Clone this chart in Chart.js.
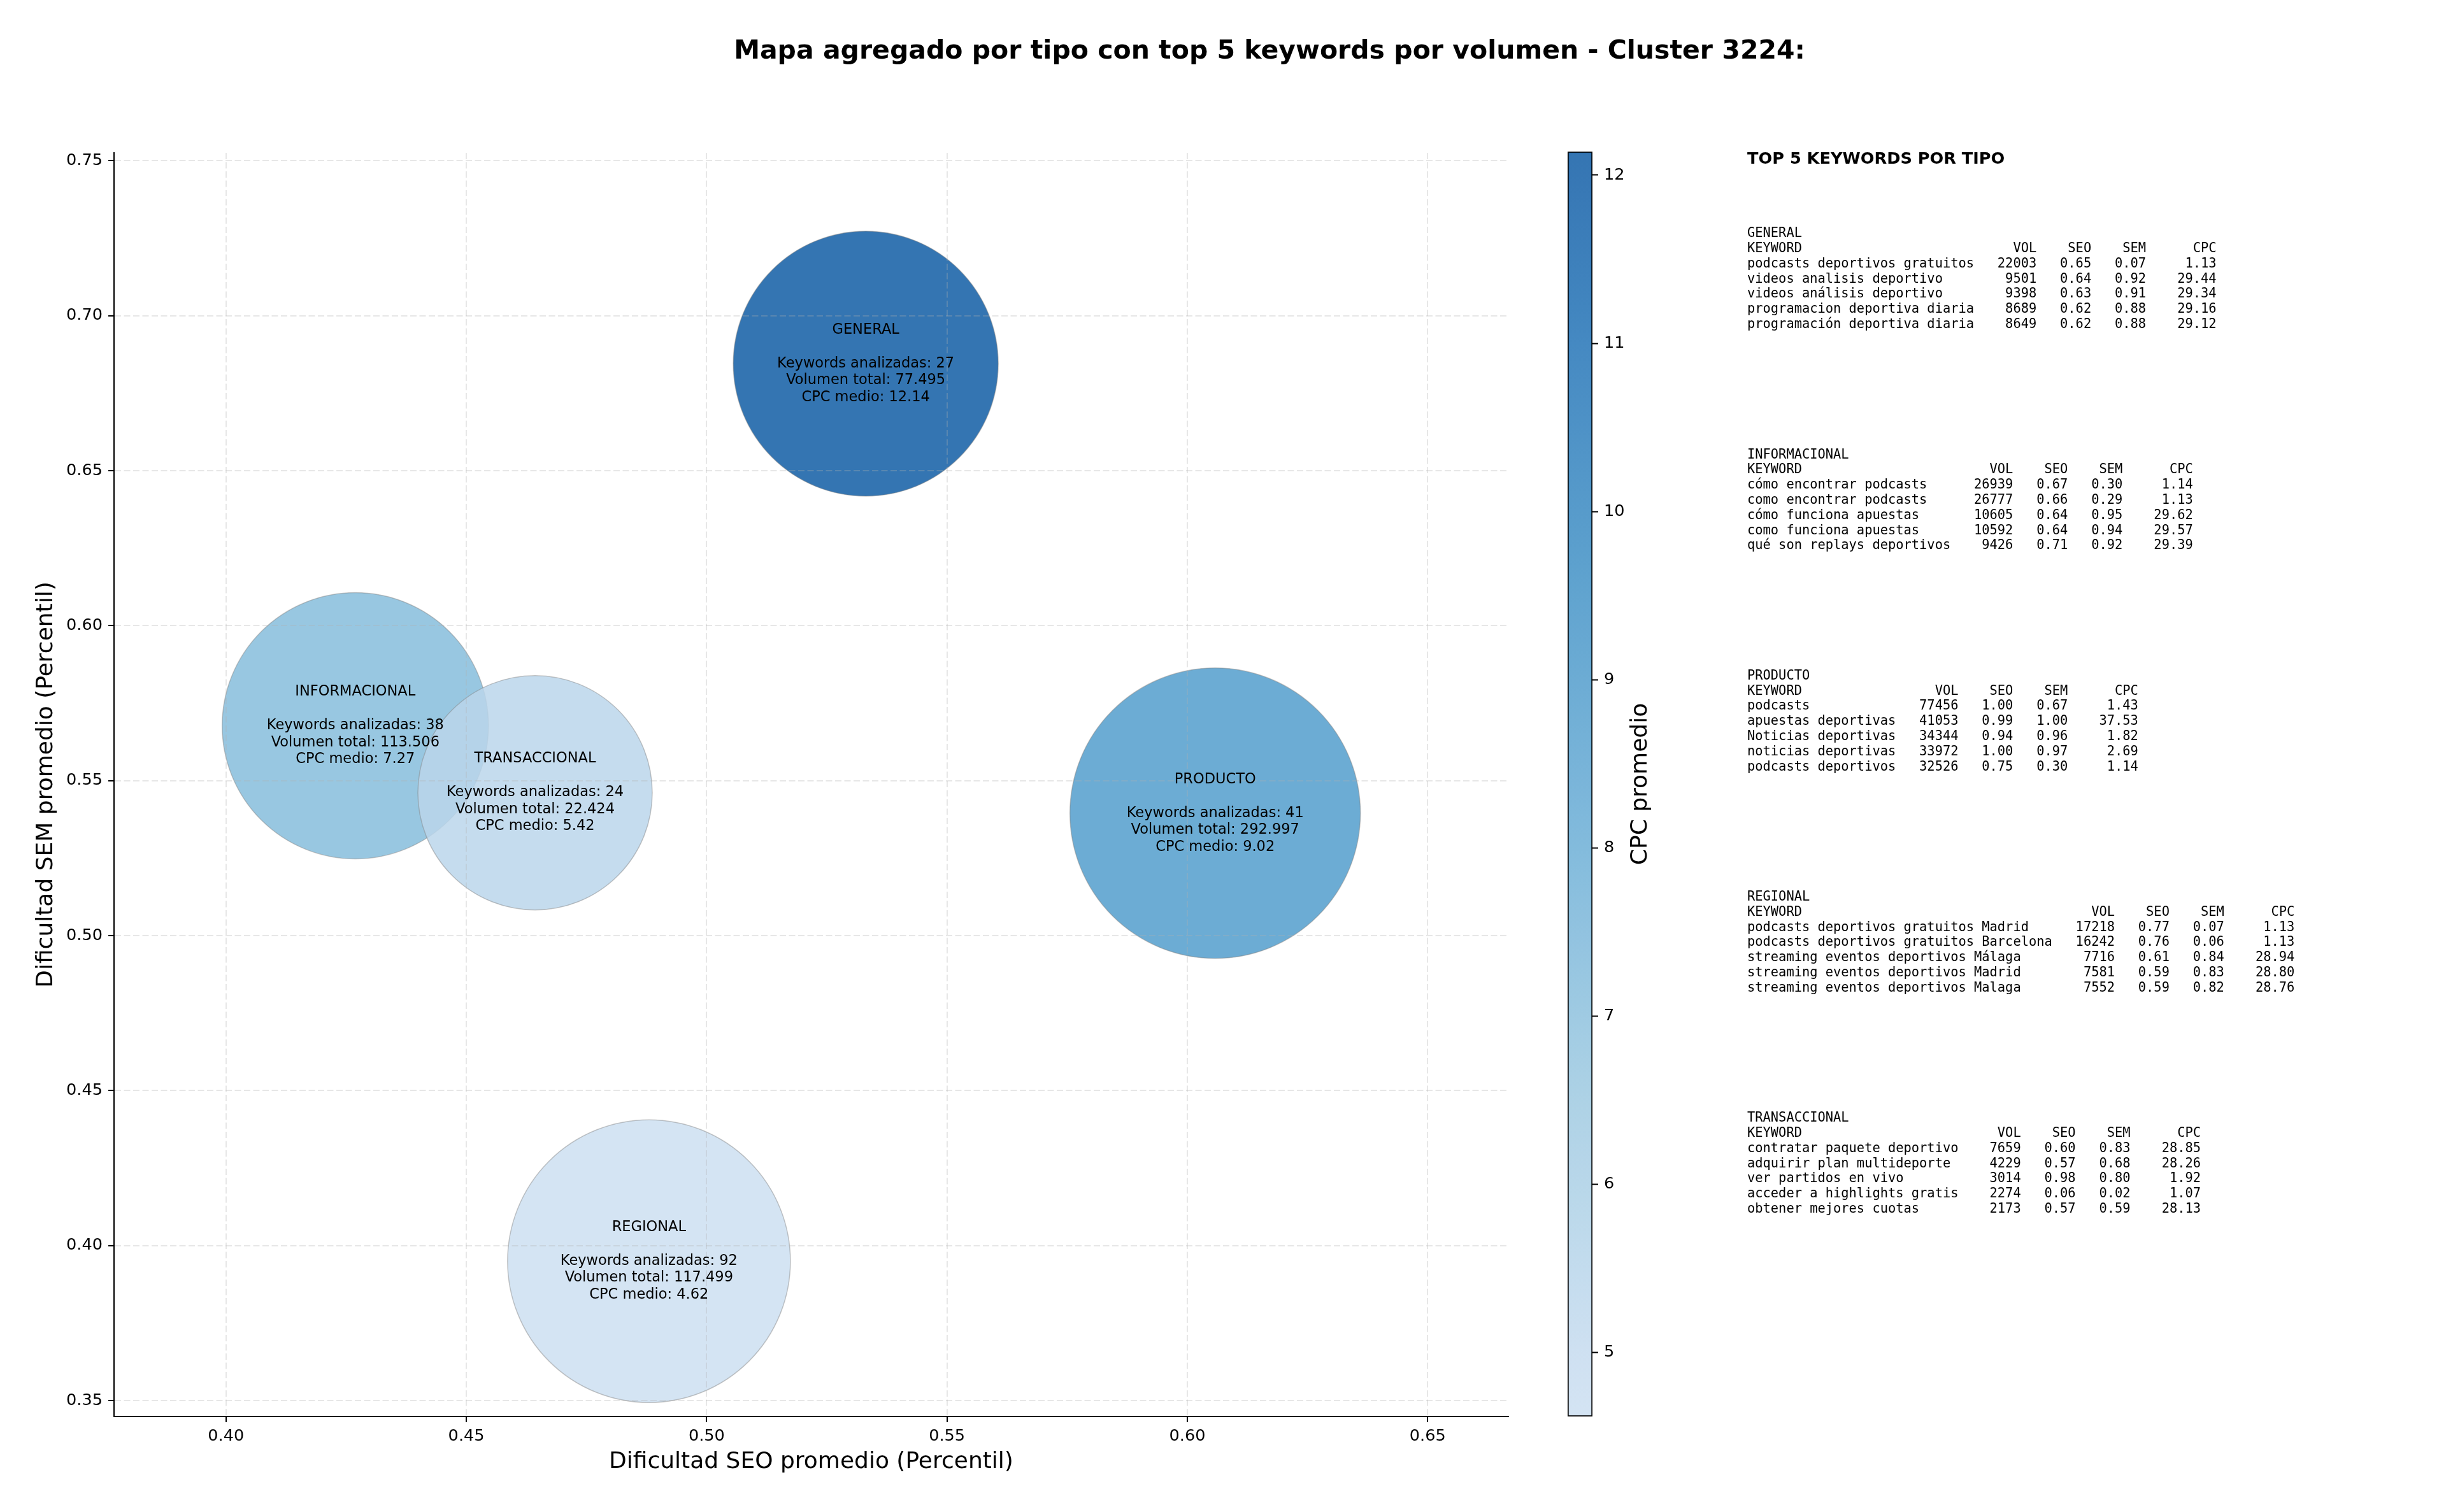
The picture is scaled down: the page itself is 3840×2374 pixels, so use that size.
<!DOCTYPE html>
<html>
<head>
<meta charset="utf-8">
<script src="https://cdn.jsdelivr.net/npm/chart.js@4.4.1/dist/chart.umd.min.js"></script>
<style>
  body { margin: 0; background: #fff; }
  #wrap { position: relative; width: 3840px; height: 2374px; }
  #mapa { position: absolute; left: 0; top: 0; }
  #barra { position: absolute; left: 2441px; top: 0; }
</style>
</head>
<body>
<div id="wrap">
  <canvas id="mapa" width="3840" height="2374"></canvas>
  <canvas id="barra" width="300" height="2374"></canvas>
</div>
<script>
// Aggregated values per keyword type
var tipos = ['GENERAL', 'INFORMACIONAL', 'PRODUCTO', 'REGIONAL', 'TRANSACCIONAL'];
var seoMedio = [0.5331, 0.4269, 0.6058, 0.4880, 0.4643];
var semMedio = [0.6845, 0.5677, 0.5395, 0.3950, 0.5461];
var keywordsAnalizadas = [27, 38, 41, 92, 24];
var volumenTotal = [77495, 113506, 292997, 117499, 22424];
var cpcMedio = [12.14, 7.27, 9.02, 4.62, 5.42];
var bubbleRadius = [208, 209, 228, 222, 184];

var xTicks = [0.40, 0.45, 0.50, 0.55, 0.60, 0.65];
var yTicks = [0.35, 0.40, 0.45, 0.50, 0.55, 0.60, 0.65, 0.70, 0.75];
var cbTicks = [5, 6, 7, 8, 9, 10, 11, 12];

// Top 5 keywords per type: keyword, VOL, SEO, SEM, CPC
var topGeneral = [
    ['podcasts deportivos gratuitos', 22003, 0.65, 0.07, 1.13],
    ['videos analisis deportivo', 9501, 0.64, 0.92, 29.44],
    ['videos análisis deportivo', 9398, 0.63, 0.91, 29.34],
    ['programacion deportiva diaria', 8689, 0.62, 0.88, 29.16],
    ['programación deportiva diaria', 8649, 0.62, 0.88, 29.12]
];
var topInformacional = [
    ['cómo encontrar podcasts', 26939, 0.67, 0.30, 1.14],
    ['como encontrar podcasts', 26777, 0.66, 0.29, 1.13],
    ['cómo funciona apuestas', 10605, 0.64, 0.95, 29.62],
    ['como funciona apuestas', 10592, 0.64, 0.94, 29.57],
    ['qué son replays deportivos', 9426, 0.71, 0.92, 29.39]
];
var topProducto = [
    ['podcasts', 77456, 1.00, 0.67, 1.43],
    ['apuestas deportivas', 41053, 0.99, 1.00, 37.53],
    ['Noticias deportivas', 34344, 0.94, 0.96, 1.82],
    ['noticias deportivas', 33972, 1.00, 0.97, 2.69],
    ['podcasts deportivos', 32526, 0.75, 0.30, 1.14]
];
var topRegional = [
    ['podcasts deportivos gratuitos Madrid', 17218, 0.77, 0.07, 1.13],
    ['podcasts deportivos gratuitos Barcelona', 16242, 0.76, 0.06, 1.13],
    ['streaming eventos deportivos Málaga', 7716, 0.61, 0.84, 28.94],
    ['streaming eventos deportivos Madrid', 7581, 0.59, 0.83, 28.80],
    ['streaming eventos deportivos Malaga', 7552, 0.59, 0.82, 28.76]
];
var topTransaccional = [
    ['contratar paquete deportivo', 7659, 0.60, 0.83, 28.85],
    ['adquirir plan multideporte', 4229, 0.57, 0.68, 28.26],
    ['ver partidos en vivo', 3014, 0.98, 0.80, 1.92],
    ['acceder a highlights gratis', 2274, 0.06, 0.02, 1.07],
    ['obtener mejores cuotas', 2173, 0.57, 0.59, 28.13]
];
var secciones = [topGeneral, topInformacional, topProducto, topRegional, topTransaccional];

var cpcMin = Math.min(...cpcMedio);
var cpcMax = Math.max(...cpcMedio);

// matplotlib "Blues" anchor colors
var bluesStops = [
    [0, [247, 251, 255]], [0.125, [222, 235, 247]], [0.25, [198, 219, 239]],
    [0.375, [158, 202, 225]], [0.5, [107, 174, 214]], [0.625, [66, 146, 198]],
    [0.75, [33, 113, 181]], [0.875, [8, 81, 156]], [1, [8, 48, 107]]
];

function blues(t) {
    for (var i = 1; i < bluesStops.length; i++) {
        if (t <= bluesStops[i][0]) {
            var a = bluesStops[i - 1], b = bluesStops[i];
            var f = (t - a[0]) / (b[0] - a[0]);
            return a[1].map((v, k) => Math.round(v + (b[1][k] - v) * f));
        }
    }
    return bluesStops[bluesStops.length - 1][1];
}

/**
 * Color for a fraction (0..1) of the CPC range, same alpha as the bubbles
 */
function cmapColor(f) {
    var c = blues(0.22 + f * 0.61);
    return 'rgba(' + c[0] + ',' + c[1] + ',' + c[2] + ',0.85)';
}

function formatVolumen(v) {
    return String(v).replace(/\B(?=(\d{3})+(?!\d))/g, '.');
}

/**
 * Builds the fixed-width lines of one keyword table
 */
function seccionLines(nombre, rows) {
    var w = Math.max('KEYWORD'.length, ...rows.map(r => r[0].length));
    var lines = [nombre, 'KEYWORD'.padEnd(w) + 'VOL'.padStart(8) + 'SEO'.padStart(7) + 'SEM'.padStart(7) + 'CPC'.padStart(9)];
    for (var r of rows) {
        lines.push(r[0].padEnd(w) + String(r[1]).padStart(8) + r[2].toFixed(2).padStart(7)
            + r[3].toFixed(2).padStart(7) + r[4].toFixed(2).padStart(9));
    }
    return lines;
}

// Title, bubble labels and the keyword panel drawn on top of everything
const textosPlugin = {
    id: 'textos',
    afterDraw: (chart) => {
        var ctx = chart.ctx;
        var meta = chart.getDatasetMeta(0);
        ctx.save();
        ctx.fillStyle = '#000';

        ctx.textAlign = 'center';
        ctx.textBaseline = 'middle';
        ctx.font = 'bold 41px "DejaVu Sans"';
        ctx.fillText('Mapa agregado por tipo con top 5 keywords por volumen - Cluster 3224:', 1993, 81);

        ctx.font = '22.5px "DejaVu Sans"';
        meta.data.forEach((pt, i) => {
            var lines = [tipos[i], '', 'Keywords analizadas: ' + keywordsAnalizadas[i],
                'Volumen total: ' + formatVolumen(volumenTotal[i]), 'CPC medio: ' + cpcMedio[i].toFixed(2)];
            lines.forEach((l, j) => ctx.fillText(l, pt.x, pt.y + (j - 2) * 26.5));
        });

        ctx.textAlign = 'left';
        ctx.font = 'bold 25.6px "DejaVu Sans"';
        ctx.fillText('TOP 5 KEYWORDS POR TIPO', 2743, 250);

        ctx.font = '20.4px "DejaVu Sans Mono"';
        secciones.forEach((rows, i) => {
            var lines = seccionLines(tipos[i], rows);
            lines.forEach((l, j) => ctx.fillText(l, 2743, 367 + i * 347.25 + j * 23.8));
        });
        ctx.restore();
    }
};

document.addEventListener("DOMContentLoaded", event => {
    Chart.defaults.font.family = '"DejaVu Sans"';
    Chart.defaults.color = '#000';
    createMapa();
    createBarra();
});

function createMapa() {
    var points = tipos.map((t, i) => ({ x: seoMedio[i], y: semMedio[i], r: bubbleRadius[i] }));
    var colors = cpcMedio.map(c => cmapColor((c - cpcMin) / (cpcMax - cpcMin)));
    var gridOpts = {
        z: 1,
        color: 'rgba(176,176,176,0.3)',
        lineWidth: 2,
        tickColor: '#000',
        tickWidth: 2,
        tickLength: 9
    };
    new Chart(document.getElementById('mapa'), {
        type: 'bubble',
        data: {
            datasets: [{
                data: points,
                backgroundColor: colors,
                borderColor: 'rgba(128,128,128,0.45)',
                borderWidth: 1.5
            }]
        },
        options: {
            responsive: false,
            animation: false,
            events: [],
            layout: { autoPadding: false, padding: { left: 0, top: 240, right: 1472, bottom: 0 } },
            plugins: { legend: { display: false }, tooltip: { enabled: false } },
            scales: {
                x: {
                    type: 'linear',
                    min: 0.3767,
                    max: 0.6668,
                    afterBuildTicks: scale => { scale.ticks = xTicks.map(v => ({ value: v })); },
                    afterFit: scale => { scale.height = 150; },
                    ticks: { font: { size: 25.6 }, padding: 7, callback: v => v.toFixed(2) },
                    grid: gridOpts,
                    border: { z: 2, color: '#000', width: 2, dash: [10, 4.5] },
                    title: {
                        display: true,
                        text: 'Dificultad SEO promedio (Percentil)',
                        font: { size: 36 },
                        padding: { top: 0, bottom: 57 }
                    }
                },
                y: {
                    type: 'linear',
                    min: 0.3449,
                    max: 0.7525,
                    afterBuildTicks: scale => { scale.ticks = yTicks.map(v => ({ value: v })); },
                    afterFit: scale => { scale.width = 179; },
                    ticks: { font: { size: 25.6 }, padding: 9, callback: v => v.toFixed(2) },
                    grid: gridOpts,
                    border: { z: 2, color: '#000', width: 2, dash: [10, 4.5] },
                    title: {
                        display: true,
                        text: 'Dificultad SEM promedio (Percentil)',
                        font: { size: 36 },
                        padding: { top: 51, bottom: 0 }
                    }
                }
            }
        },
        plugins: [textosPlugin]
    });
}

// Colorbar: one floating bar over the CPC range, filled with the colormap
function createBarra() {
    const labelPlugin = {
        id: 'cbLabel',
        afterDraw: (chart) => {
            var ctx = chart.ctx;
            ctx.save();
            ctx.translate(135, (chart.chartArea.top + chart.chartArea.bottom) / 2);
            ctx.rotate(-Math.PI / 2);
            ctx.textAlign = 'center';
            ctx.textBaseline = 'middle';
            ctx.fillStyle = '#000';
            ctx.font = '36px "DejaVu Sans"';
            ctx.fillText('CPC promedio', 0, 0);
            ctx.restore();
        }
    };
    new Chart(document.getElementById('barra'), {
        type: 'bar',
        data: {
            labels: [''],
            datasets: [{
                data: [[cpcMin, cpcMax]],
                backgroundColor: function (context) {
                    var chart = context.chart;
                    if (!chart.chartArea) return cmapColor(1);
                    var yScale = chart.scales.y;
                    var grad = chart.ctx.createLinearGradient(0, yScale.getPixelForValue(cpcMin), 0, yScale.getPixelForValue(cpcMax));
                    for (var i = 0; i <= 40; i++) grad.addColorStop(i / 40, cmapColor(i / 40));
                    return grad;
                },
                borderColor: '#000',
                borderWidth: 2,
                borderSkipped: false,
                barPercentage: 1,
                categoryPercentage: 1
            }]
        },
        options: {
            responsive: false,
            animation: false,
            events: [],
            layout: { autoPadding: false, padding: { left: 20, top: 238, right: 0, bottom: 150 } },
            plugins: { legend: { display: false }, tooltip: { enabled: false } },
            scales: {
                x: { display: false },
                y: {
                    position: 'right',
                    min: cpcMin,
                    max: cpcMax,
                    afterBuildTicks: scale => { scale.ticks = cbTicks.map(v => ({ value: v })); },
                    afterFit: scale => { scale.width = 241; },
                    ticks: { font: { size: 25.6 }, padding: 9 },
                    grid: { drawOnChartArea: false, tickColor: '#000', tickWidth: 2, tickLength: 9 },
                    border: { display: false }
                }
            }
        },
        plugins: [labelPlugin]
    });
}
</script>
</body>
</html>
